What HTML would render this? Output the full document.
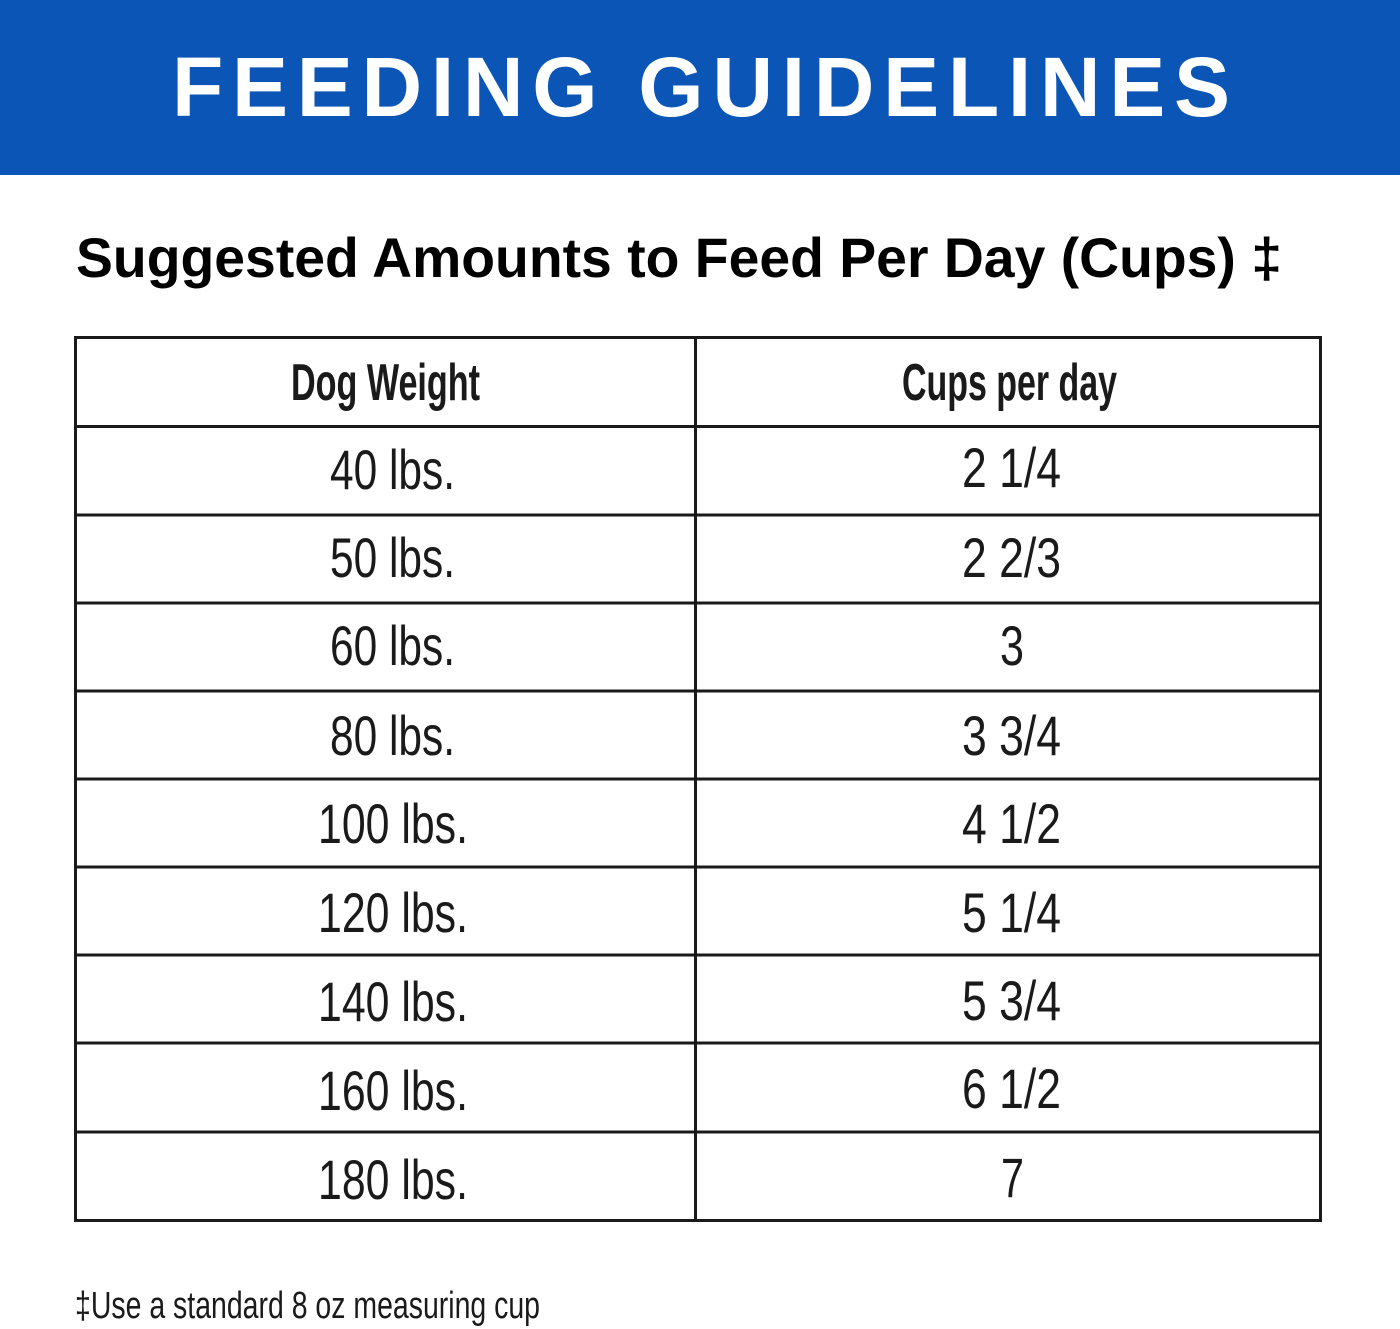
<!DOCTYPE html>
<html><head><style>html,body{margin:0;padding:0;background:#fff}svg{display:block}</style></head>
<body>
<svg width="1400" height="1329" viewBox="0 0 1400 1329" xmlns="http://www.w3.org/2000/svg">
<rect x="0" y="0" width="1400" height="175" fill="#0a55b5"/>
<text x="172" y="116" font-family="Liberation Sans, sans-serif" font-weight="bold" font-size="84" fill="#fff" textLength="1058" lengthAdjust="spacing">FEEDING GUIDELINES</text>
<text x="76" y="277" font-family="Liberation Sans, sans-serif" font-weight="bold" font-size="56" fill="#000" textLength="1206" lengthAdjust="spacingAndGlyphs">Suggested Amounts to Feed Per Day (Cups) ‡</text>
<g stroke="#1a1a1a" stroke-width="3" fill="none">
<rect x="75.5" y="337.5" width="1245" height="883"/>
<line x1="695.5" y1="337" x2="695.5" y2="1221"/>
<line x1="75" y1="426.5" x2="1321" y2="426.5"/>
<line x1="75" y1="515" x2="1321" y2="515"/>
<line x1="75" y1="603" x2="1321" y2="603"/>
<line x1="75" y1="691" x2="1321" y2="691"/>
<line x1="75" y1="779" x2="1321" y2="779"/>
<line x1="75" y1="867" x2="1321" y2="867"/>
<line x1="75" y1="955" x2="1321" y2="955"/>
<line x1="75" y1="1043" x2="1321" y2="1043"/>
<line x1="75" y1="1132" x2="1321" y2="1132"/>
</g>
<g font-family="Liberation Sans Narrow, Liberation Sans, sans-serif" fill="#1a1a1a" font-size="56">
<text x="291" y="400" font-weight="bold" font-size="52" textLength="189" lengthAdjust="spacingAndGlyphs">Dog Weight</text>
<text x="902" y="400" font-weight="bold" font-size="52" textLength="215" lengthAdjust="spacingAndGlyphs">Cups per day</text>
<text x="330" y="489" textLength="125" lengthAdjust="spacingAndGlyphs">40 lbs.</text>
<text x="330" y="577" textLength="125" lengthAdjust="spacingAndGlyphs">50 lbs.</text>
<text x="330" y="665" textLength="125" lengthAdjust="spacingAndGlyphs">60 lbs.</text>
<text x="330" y="755" textLength="125" lengthAdjust="spacingAndGlyphs">80 lbs.</text>
<text x="318" y="843" textLength="150" lengthAdjust="spacingAndGlyphs">100 lbs.</text>
<text x="318" y="932" textLength="150" lengthAdjust="spacingAndGlyphs">120 lbs.</text>
<text x="318" y="1021" textLength="150" lengthAdjust="spacingAndGlyphs">140 lbs.</text>
<text x="318" y="1110" textLength="150" lengthAdjust="spacingAndGlyphs">160 lbs.</text>
<text x="318" y="1199" textLength="150" lengthAdjust="spacingAndGlyphs">180 lbs.</text>
<text x="962" y="487" textLength="99" lengthAdjust="spacingAndGlyphs">2 1/4</text>
<text x="962" y="577" textLength="99" lengthAdjust="spacingAndGlyphs">2 2/3</text>
<text x="1000" y="665" textLength="24" lengthAdjust="spacingAndGlyphs">3</text>
<text x="962" y="755" textLength="99" lengthAdjust="spacingAndGlyphs">3 3/4</text>
<text x="962" y="843" textLength="99" lengthAdjust="spacingAndGlyphs">4 1/2</text>
<text x="962" y="932" textLength="99" lengthAdjust="spacingAndGlyphs">5 1/4</text>
<text x="962" y="1020" textLength="99" lengthAdjust="spacingAndGlyphs">5 3/4</text>
<text x="962" y="1108" textLength="99" lengthAdjust="spacingAndGlyphs">6 1/2</text>
<text x="1001" y="1197" textLength="23" lengthAdjust="spacingAndGlyphs">7</text>
<text x="75" y="1318" font-size="38" textLength="465" lengthAdjust="spacingAndGlyphs">‡Use a standard 8 oz measuring cup</text>
</g>
</svg>
</body></html>
